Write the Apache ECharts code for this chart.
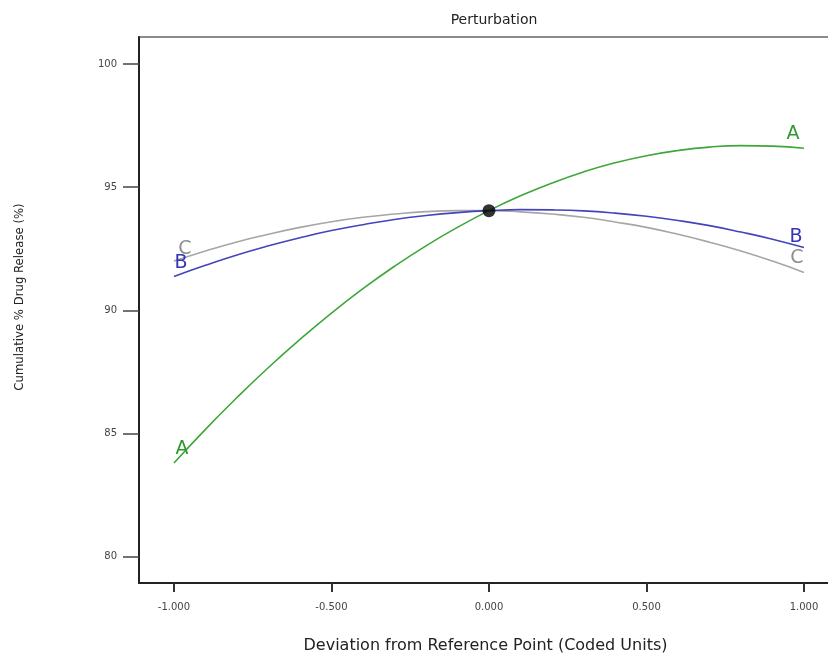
<!DOCTYPE html>
<html>
<head>
<meta charset="utf-8">
<script src="https://cdn.jsdelivr.net/npm/echarts@6/dist/echarts.min.js"></script>
<style>
  html, body { margin: 0; padding: 0; background: #fff; }
  #chart { width: 828px; height: 655px; }
</style>
</head>
<body>
<div id="chart"></div>
<script>
// deviation from reference point (coded units)
const xs = [-1.0, -0.9, -0.8, -0.7, -0.6, -0.5, -0.4, -0.3, -0.2, -0.1, 0.0,
  0.1, 0.2, 0.3, 0.4, 0.5, 0.6, 0.7, 0.8, 0.9, 1.0];
const seriesA = [83.80, 85.17, 86.46, 87.68, 88.82, 89.89, 90.88, 91.79, 92.62, 93.37, 94.05,
  94.65, 95.17, 95.62, 95.99, 96.28, 96.49, 96.63, 96.69, 96.67, 96.58];
const seriesB = [91.38, 91.83, 92.25, 92.62, 92.95, 93.24, 93.48, 93.69, 93.85, 93.97, 94.05,
  94.09, 94.08, 94.04, 93.95, 93.82, 93.65, 93.44, 93.18, 92.89, 92.55];
const seriesC = [92.00, 92.41, 92.78, 93.09, 93.37, 93.60, 93.78, 93.91, 94.01, 94.05, 94.05,
  94.00, 93.91, 93.78, 93.59, 93.37, 93.09, 92.77, 92.41, 92.00, 91.54];
const xTicks = [-1, -0.5, 0, 0.5, 1];
const yTicks = [80, 85, 90, 95, 100];

const colors = { A: "#3ea63a", B: "#4444bb", C: "#a6a6a6" };
const letterColors = { A: "#2f9a2b", B: "#3535b8", C: "#8f8f8f" };
const refIndex = 10;

const pairs = (ys) => xs.map((x, i) => [x, ys[i]]);
const last = xs.length - 1;

const lineSeries = (name, ys) => ({
  name: name,
  type: "line",
  smooth: true,
  showSymbol: false,
  z: 2,
  lineStyle: { color: colors[name], width: 1.6 },
  data: pairs(ys),
});

const letter = (name, ys, i, offset) => ({
  value: [xs[i], ys[i]],
  label: { formatter: name, color: letterColors[name], offset: offset },
});

let chart = echarts.init(document.getElementById("chart"));
chart.setOption({
  animation: false,
  title: {
    text: "Perturbation",
    left: 489,
    top: 8,
    textAlign: "center",
    textStyle: { fontFamily: "DejaVu Sans", fontSize: 14, fontWeight: "normal", color: "#222" },
  },
  grid: {
    left: 139,
    top: 37,
    right: -4,
    bottom: 72,
    outerBoundsMode: "none",
    containLabel: false,
    show: true,
    borderColor: "#8a8a8a",
    borderWidth: 2,
  },
  xAxis: {
    type: "value",
    min: -1.111,
    max: 1.089,
    name: "Deviation from Reference Point (Coded Units)",
    nameLocation: "middle",
    nameGap: 55,
    nameTextStyle: { fontFamily: "DejaVu Sans", fontSize: 16, color: "#222" },
    splitLine: { show: false },
    axisLine: { onZero: false, lineStyle: { color: "#222", width: 2 } },
    axisTick: { customValues: xTicks, length: 9, lineStyle: { color: "#333", width: 2 } },
    axisLabel: {
      customValues: xTicks,
      margin: 19,
      fontFamily: "DejaVu Sans",
      fontSize: 10,
      color: "#444",
      formatter: (v) => v.toFixed(3),
    },
  },
  yAxis: {
    type: "value",
    min: 78.93,
    max: 101.1,
    name: "Cumulative % Drug Release (%)",
    nameLocation: "middle",
    nameGap: 113,
    nameRotate: 90,
    nameTextStyle: {
      fontFamily: "Liberation Sans Narrow, DejaVu Sans Condensed",
      fontSize: 13,
      color: "#222",
      padding: [0, 0, 0, 26],
    },
    splitLine: { show: false },
    axisLine: { onZero: false, lineStyle: { color: "#222", width: 2 } },
    axisTick: { customValues: yTicks, length: 16, lineStyle: { color: "#444", width: 1.5 } },
    axisLabel: {
      customValues: yTicks,
      margin: 22,
      fontFamily: "DejaVu Sans",
      fontSize: 10,
      color: "#444",
    },
  },
  series: [
    lineSeries("C", seriesC),
    lineSeries("B", seriesB),
    lineSeries("A", seriesA),
    {
      type: "scatter",
      symbolSize: 1,
      itemStyle: { color: "rgba(0,0,0,0)" },
      z: 3,
      label: {
        show: true,
        position: "inside",
        fontFamily: "DejaVu Sans",
        fontSize: 19,
        opacity: 1,
      },
      data: [
        letter("A", seriesA, 0, [8, -14]),
        letter("A", seriesA, last, [-11, -14]),
        letter("B", seriesB, 0, [7, -13]),
        letter("B", seriesB, last, [-8, -11]),
        letter("C", seriesC, 0, [11, -12]),
        letter("C", seriesC, last, [-7, -14]),
      ],
    },
    {
      type: "scatter",
      symbolSize: 13,
      z: 4,
      itemStyle: { color: "#000" },
      data: [[xs[refIndex], seriesA[refIndex]]],
    },
  ],
});
</script>
</body>
</html>
